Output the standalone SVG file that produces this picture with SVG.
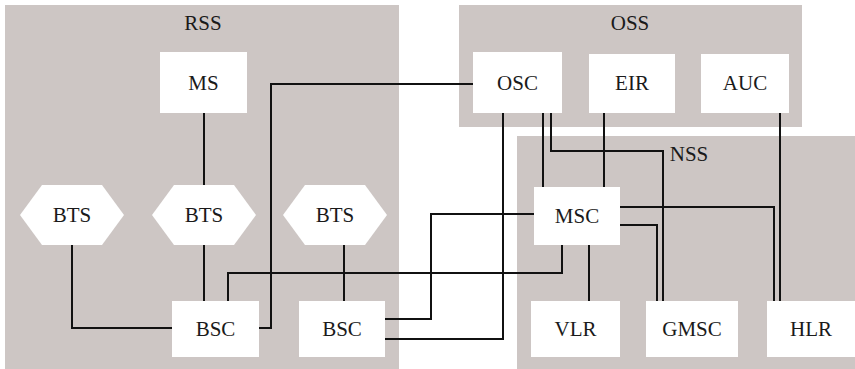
<svg xmlns="http://www.w3.org/2000/svg" width="855" height="369" viewBox="0 0 855 369">
<style>
.region{fill:#cdc6c4;stroke:none}
.box{fill:#ffffff;stroke:none}
.lbl{font-family:"Liberation Serif","Times New Roman",serif;font-size:21px;fill:#1a1a1a;text-anchor:middle}
.conn{fill:none;stroke:#111111;stroke-width:2}
</style>
<rect width="855" height="369" fill="#ffffff"/>
<g id="RSS"><rect class="region" x="5" y="5" width="394" height="364"/><text class="lbl" x="203" y="30">RSS</text></g>
<g id="OSS"><rect class="region" x="459" y="5" width="343" height="122"/><text class="lbl" x="630" y="30">OSS</text></g>
<g id="NSS"><rect class="region" x="517" y="136" width="338" height="233"/><text class="lbl" x="689" y="161">NSS</text></g>
<g id="connectors">
<path class="conn" d="M204,113 V185"/>
<path class="conn" d="M204,245 V301"/>
<path class="conn" d="M72,245 V328 H172"/>
<path class="conn" d="M259,328 H271 V84 H473"/>
<path class="conn" d="M228,301 V273 H562 V245"/>
<path class="conn" d="M344,245 V301"/>
<path class="conn" d="M385,319 H431 V214 H534"/>
<path class="conn" d="M385,339 H503 V113"/>
<path class="conn" d="M543,113 V187"/>
<path class="conn" d="M551,113 V151 H663 V301"/>
<path class="conn" d="M604,113 V187"/>
<path class="conn" d="M780,113 V301"/>
<path class="conn" d="M620,207 H774 V301"/>
<path class="conn" d="M620,225 H657 V301"/>
<path class="conn" d="M589,245 V301"/>
</g>
<g id="MS"><rect class="box" x="160" y="52" width="87" height="61"/><text class="lbl" x="203.5" y="89.5">MS</text></g>
<g id="BTS1"><polygon class="box" points="20,215 42,185 102,185 124,215 102,245 42,245"/><text class="lbl" x="72" y="222">BTS</text></g>
<g id="BTS2"><polygon class="box" points="152,215 174,185 234,185 256,215 234,245 174,245"/><text class="lbl" x="204" y="222">BTS</text></g>
<g id="BTS3"><polygon class="box" points="283,215 305,185 365,185 387,215 365,245 305,245"/><text class="lbl" x="335" y="222">BTS</text></g>
<g id="BSC1"><rect class="box" x="172" y="301" width="87" height="56"/><text class="lbl" x="215.5" y="336">BSC</text></g>
<g id="BSC2"><rect class="box" x="299" y="301" width="86" height="56"/><text class="lbl" x="342" y="336">BSC</text></g>
<g id="OSC"><rect class="box" x="473" y="52" width="89" height="61"/><text class="lbl" x="517.5" y="89.5">OSC</text></g>
<g id="EIR"><rect class="box" x="589" y="54" width="86" height="59"/><text class="lbl" x="632" y="90">EIR</text></g>
<g id="AUC"><rect class="box" x="701" y="54" width="88" height="59"/><text class="lbl" x="745" y="90">AUC</text></g>
<g id="MSC"><rect class="box" x="534" y="187" width="86" height="58"/><text class="lbl" x="577" y="223">MSC</text></g>
<g id="VLR"><rect class="box" x="531" y="301" width="89" height="56"/><text class="lbl" x="575.5" y="336">VLR</text></g>
<g id="GMSC"><rect class="box" x="646" y="301" width="92" height="56"/><text class="lbl" x="692" y="336">GMSC</text></g>
<g id="HLR"><rect class="box" x="767" y="301" width="88" height="56"/><text class="lbl" x="811" y="336">HLR</text></g>
</svg>
